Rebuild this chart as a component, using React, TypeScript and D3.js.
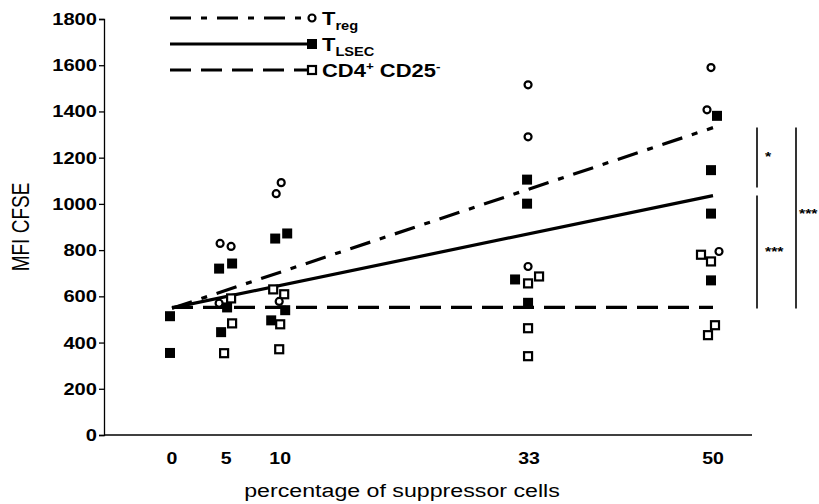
import { useEffect, useRef } from 'react'
import * as d3 from 'd3'

const xLevels = [0, 5, 10, 33, 50]
const yTicks = [0, 200, 400, 600, 800, 1000, 1200, 1400, 1600, 1800]

// MFI CFSE values read per suppressor percentage
const tregPct = [5, 5, 5, 10, 10, 10, 33, 33, 33, 50, 50, 50]
const tregMfi = [829, 816, 570, 1092, 1044, 578, 1515, 1290, 729, 1590, 1407, 794]
const tlsecPct = [0, 0, 5, 5, 5, 5, 10, 10, 10, 10, 33, 33, 33, 33, 50, 50, 50, 50]
const tlsecMfi = [514, 355, 742, 720, 552, 445, 872, 850, 540, 496, 1105, 1001, 673, 572, 1381, 1146, 958, 669]
const cd4Pct = [5, 5, 5, 10, 10, 10, 10, 33, 33, 33, 33, 50, 50, 50, 50]
const cd4Mfi = [591, 483, 354, 630, 609, 479, 371, 686, 656, 462, 341, 780, 751, 475, 432]

// regression lines: MFI at 0% and at 50%
const tregFit = [548, 1330]
const tlsecFit = [550, 1036]
const cd4Fit = [552, 552]

// horizontal nudges (px) so overlapping points stay visible
const tregNudge = [-6, 5, -7, 1, -4, -1, -1, -1, -1, -2, -6, 6]
const tlsecNudge = [-2, -2, 6, -7, 1, -5, 7, -5, 5, -9, -2, -2, -14, -1, 4, -2, -2, -2]
const cd4Nudge = [5, 6, -2, -7, 4, 0, -1, 10, -1, -1, -1, -12, -2, 2, -5]

const W = 819
const H = 504
const font = 'Liberation Sans, Arial, sans-serif'
const stretch = 1.22 // the source picture is widened, text included

export default function App() {
  const svgRef = useRef<SVGSVGElement>(null)

  useEffect(() => {
    const svg = d3.select(svgRef.current)
    svg.selectAll('*').remove()

    const x = d3.scaleLinear().domain([0, 50]).range([172, 713])
    const y = d3.scaleLinear().domain([0, 1800]).range([435, 19])
    const axisX = 104

    const label = (tx, ty, size, weight, anchor, rot = 0) =>
      svg.append('text')
        .attr('transform', `translate(${tx},${ty}) rotate(${rot}) scale(${rot ? 1 : stretch},${rot ? stretch : 1})`)
        .attr('text-anchor', anchor)
        .attr('font-family', font)
        .attr('font-size', size)
        .attr('font-weight', weight)
        .attr('fill', '#000')

    // y axis
    const ya = svg.append('g').attr('transform', `translate(${axisX},0)`)
      .call(d3.axisLeft(y).tickValues(yTicks).tickSize(5).tickFormat(() => ''))
    ya.select('.domain').attr('stroke', '#000').attr('stroke-width', 1.3)
    ya.selectAll('.tick line').attr('stroke', '#000').attr('stroke-width', 1.3)
    yTicks.forEach((t) => label(97, y(t) + 6, 16.5, 'bold', 'end').text(t))

    // x axis baseline, no ticks
    svg.append('line')
      .attr('x1', axisX).attr('x2', 752)
      .attr('y1', y(0)).attr('y2', y(0))
      .attr('stroke', '#000').attr('stroke-width', 1.3)
    xLevels.forEach((v) => label(x(v), 464, 16, 'bold', 'middle').text(v))

    label(402, 497, 19, 'normal', 'middle').text('percentage of suppressor cells')
    label(29, y(900), 19, 'normal', 'middle', -90).text('MFI CFSE')

    // fitted lines
    const fits = [
      { v: tregFit, dash: '21,10,6,10' },
      { v: tlsecFit, dash: null },
      { v: cd4Fit, dash: '21,10' },
    ]
    fits.forEach((f) => {
      svg.append('line')
        .attr('x1', x(0)).attr('y1', y(f.v[0]))
        .attr('x2', x(50)).attr('y2', y(f.v[1]))
        .attr('stroke', '#000')
        .attr('stroke-width', 3.2)
        .attr('stroke-dasharray', f.dash)
    })

    // markers
    const circle = (g, cx, cy) => g.append('circle').attr('cx', cx).attr('cy', cy).attr('r', 3.5)
      .attr('fill', '#fff').attr('stroke', '#000').attr('stroke-width', 2.2)
    const filled = (g, cx, cy) => g.append('rect').attr('x', cx - 5).attr('y', cy - 5)
      .attr('width', 10).attr('height', 10).attr('fill', '#000')
    const open = (g, cx, cy) => g.append('rect').attr('x', cx - 4).attr('y', cy - 4)
      .attr('width', 8).attr('height', 8).attr('fill', '#fff').attr('stroke', '#000').attr('stroke-width', 2.2)

    const pts = svg.append('g')
    cd4Pct.forEach((p, i) => open(pts, x(p) + cd4Nudge[i], y(cd4Mfi[i])))
    tlsecPct.forEach((p, i) => filled(pts, x(p) + tlsecNudge[i], y(tlsecMfi[i])))
    tregPct.forEach((p, i) => circle(pts, x(p) + tregNudge[i], y(tregMfi[i])))

    // significance brackets at the 50% end
    const bx1 = 757
    const bx2 = 796
    const bracket = (xx, v0, v1) => svg.append('line')
      .attr('x1', xx).attr('x2', xx).attr('y1', y(v0)).attr('y2', y(v1))
      .attr('stroke', '#000').attr('stroke-width', 1.6)
    bracket(bx1, tregFit[1], tlsecFit[1] + 35)
    bracket(bx1, tlsecFit[1], cd4Fit[1] - 5)
    bracket(bx2, tregFit[1], cd4Fit[1] - 5)
    label(765, y((tregFit[1] + tlsecFit[1]) / 2 + 30) + 6, 13, 'bold', 'start').text('*')
    label(765, y((tlsecFit[1] + cd4Fit[1]) / 2) + 5, 13, 'bold', 'start').text('***')
    label(799, y((tregFit[1] + cd4Fit[1]) / 2 + 20) + 5, 13, 'bold', 'start').text('***')

    // legend
    const rows = [
      { yy: 18, dash: '21,10,6,10', mark: circle },
      { yy: 44, dash: null, mark: filled },
      { yy: 70, dash: '21,10', mark: open },
    ]
    rows.forEach((r) => {
      svg.append('line')
        .attr('x1', 170).attr('x2', 308).attr('y1', r.yy).attr('y2', r.yy)
        .attr('stroke', '#000').attr('stroke-width', 3.2)
        .attr('stroke-dasharray', r.dash)
      r.mark(svg, 312, r.yy)
    })
    const t1 = label(322, 25, 18, 'bold', 'start')
    t1.append('tspan').text('T')
    t1.append('tspan').attr('font-size', 12).attr('dy', 5).text('reg')
    const t2 = label(322, 51, 18, 'bold', 'start')
    t2.append('tspan').text('T')
    t2.append('tspan').attr('font-size', 12).attr('dy', 5).text('LSEC')
    const t3 = label(322, 77, 18, 'bold', 'start')
    t3.append('tspan').text('CD4')
    t3.append('tspan').attr('font-size', 11).attr('dy', -7).text('+')
    t3.append('tspan').attr('dy', 7).text(' CD25')
    t3.append('tspan').attr('font-size', 11).attr('dy', -7).text('-')
  }, [])

  return (
    <div style={{ position: 'absolute', left: 0, top: 0 }}>
      <svg ref={svgRef} width={W} height={H} style={{ display: 'block', background: '#fff' }} />
    </div>
  )
}
